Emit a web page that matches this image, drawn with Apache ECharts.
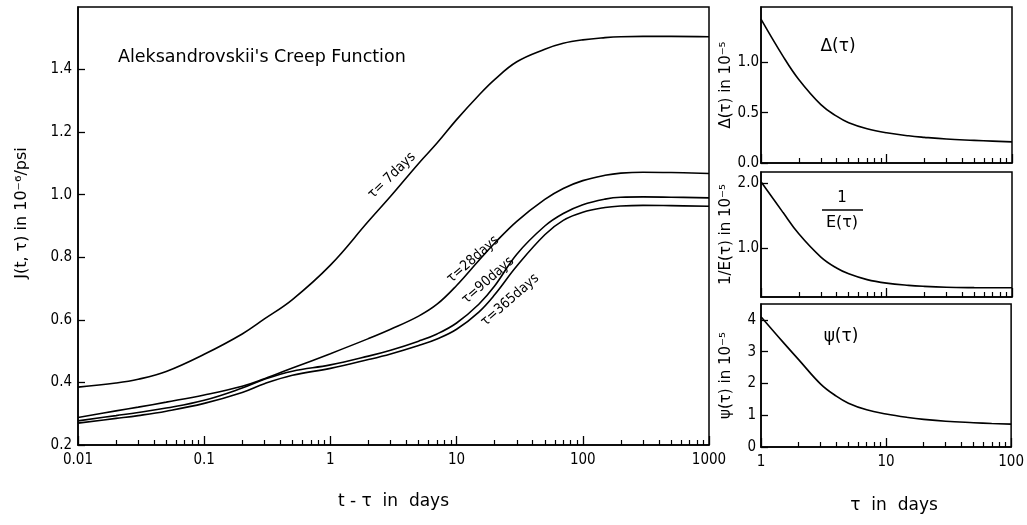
<!DOCTYPE html>
<html>
<head>
<meta charset="utf-8">
<script src="https://cdn.jsdelivr.net/npm/echarts@6/dist/echarts.min.js"></script>
<style>
html,body{margin:0;padding:0;background:#fff;}
#c{width:1027px;height:525px;}
</style>
</head>
<body>
<div id="c"></div>
<script>
// ---- main chart data: J(t,tau) vs t - tau (days) ----
const tValues = [0.01,0.02,0.03,0.05,0.1,0.2,0.3,0.5,1,2,3,5,7,10,15,20,30,50,70,100,150,200,300,500,1000];
const jTau7   = [0.385,0.398,0.410,0.435,0.490,0.555,0.603,0.665,0.775,0.915,0.995,1.100,1.165,1.240,1.318,1.368,1.425,1.465,1.484,1.495,1.502,1.505,1.506,1.506,1.505];
const jTau28  = [0.288,0.309,0.321,0.337,0.360,0.388,0.412,0.446,0.492,0.540,0.570,0.612,0.650,0.710,0.790,0.845,0.915,0.985,1.020,1.045,1.062,1.069,1.072,1.071,1.068];
const jTau90  = [0.277,0.294,0.304,0.318,0.343,0.382,0.410,0.436,0.456,0.484,0.503,0.532,0.555,0.590,0.650,0.708,0.810,0.900,0.940,0.968,0.986,0.992,0.993,0.992,0.990];
const jTau365 = [0.270,0.285,0.294,0.308,0.333,0.368,0.396,0.423,0.445,0.473,0.491,0.518,0.539,0.570,0.625,0.680,0.772,0.872,0.918,0.944,0.959,0.964,0.966,0.965,0.963];
const curveNames = ['τ= 7days','τ=28days','τ=90days','τ=365days'];
// label anchor points (t, J) for curve labels
const curveLabelT = [3.07, 13.5, 17.7, 26.5];
const curveLabelJ = [1.061, 0.793, 0.726, 0.663];

const mainYTicks = [0.2,0.4,0.6,0.8,1.0,1.2,1.4];
const mainXTicks = [0.01,0.1,1,10,100,1000];
const mainXMinor = [0.02,0.03,0.04,0.05,0.06,0.07,0.08,0.09,0.2,0.3,0.4,0.5,0.6,0.7,0.8,0.9,2,3,4,5,6,7,8,9,20,30,40,50,60,70,80,90,200,300,400,500,600,700,800,900];

// ---- right panels: functions of tau (days) ----
const tauValues = [1,1.5,2,3,4,5,7,10,15,20,30,50,70,100];
const deltaVals = [1.43,1.06,0.83,0.58,0.465,0.40,0.34,0.30,0.27,0.255,0.238,0.225,0.217,0.21];
const invEVals  = [2.03,1.55,1.22,0.86,0.69,0.60,0.51,0.455,0.42,0.405,0.392,0.385,0.383,0.383];
const psiVals   = [4.1,3.3,2.75,1.98,1.6,1.38,1.17,1.04,0.93,0.87,0.81,0.765,0.74,0.72];
const deltaTicks = [0,0.5,1.0];
const invETicks  = [1.0,2.0];
const psiTicks   = [0,1,2,3,4];
const tauXTicks = [1,10,100];
const tauXMinor = [2,3,4,5,6,7,8,9,20,30,40,50,60,70,80,90];

const FONT = "'Liberation Sans Narrow','DejaVu Sans Condensed','Liberation Sans',sans-serif";
const BLK = '#000';

function pairs(xs, ys){ return xs.map((x,i)=>[x,ys[i]]); }

const grids = [
  {left:78, top:7, width:631, height:438},
  {left:761, top:7, width:251, height:156},
  {left:761, top:172, width:251, height:125},
  {left:761, top:304, width:251, height:143}
].map(g=>Object.assign(g,{show:true,borderColor:BLK,borderWidth:1.5,containLabel:false}));

function xMajor(gi, min, max, ticks, showLabels, name){
  return {
    type:'log', logBase:10, gridIndex:gi, min:min, max:max,
    axisLine:{show:true,lineStyle:{color:BLK,width:1.5}},
    axisTick:{show:true,inside:true,length:9,lineStyle:{color:BLK,width:1.3},customValues:ticks},
    axisLabel:{show:showLabels,customValues:ticks,color:BLK,fontSize:15,fontFamily:FONT,margin:8,
      formatter:(v)=>String(+v.toPrecision(6))},
    splitLine:{show:false},
    name:name||'', nameLocation:'middle', nameGap:46, nameMoveOverlap:false,
    nameTextStyle:{color:BLK,fontSize:17,fontFamily:"'DejaVu Sans',sans-serif"}
  };
}
function xMinor(gi, min, max, ticks){
  return {
    type:'log', logBase:10, gridIndex:gi, min:min, max:max, position:'bottom',
    axisLine:{show:false},
    axisTick:{show:true,inside:true,length:5,lineStyle:{color:BLK,width:1.2},customValues:ticks},
    axisLabel:{show:false},
    splitLine:{show:false}
  };
}
function yAxis(gi, min, max, ticks, digits, name, gap, fs, margin){
  return {
    type:'value', gridIndex:gi, min:min, max:max,
    axisLine:{show:true,lineStyle:{color:BLK,width:1.5}},
    axisTick:{show:true,inside:true,length:7,lineStyle:{color:BLK,width:1.3},customValues:ticks},
    axisLabel:{show:true,customValues:ticks,color:BLK,fontSize:fs,fontFamily:FONT,margin:margin,
      formatter:(v)=>Number(v).toFixed(digits)},
    splitLine:{show:false},
    name:name, nameLocation:'middle', nameGap:gap, nameMoveOverlap:false,
    nameTextStyle:{color:BLK,fontSize:15,fontFamily:"'DejaVu Sans',sans-serif"}
  };
}

const xAxes = [
  xMajor(0, 0.01, 1000, mainXTicks, true, 't - τ  in  days'),
  xMinor(0, 0.01, 1000, mainXMinor),
  xMajor(1, 1, 100, tauXTicks, false),
  xMinor(1, 1, 100, tauXMinor),
  xMajor(2, 1, 100, tauXTicks, false),
  xMinor(2, 1, 100, tauXMinor),
  xMajor(3, 1, 100, tauXTicks, true, 'τ  in  days'),
  xMinor(3, 1, 100, tauXMinor)
];
xAxes[0].nameGap = 48;
xAxes[6].nameGap = 50;
xAxes[6].nameTextStyle.padding = [0,0,0,16];

const yAxes = [
  yAxis(0, 0.2, 1.6, mainYTicks, 1, 'J(t, τ) in 10⁻⁶/psi', 48, 15, 6),
  yAxis(1, 0, 1.55, deltaTicks, 1, 'Δ(τ) in 10⁻⁵', 27, 15, 2),
  yAxis(2, 0.24, 2.18, invETicks, 1, '1/E(τ) in 10⁻⁵', 27, 15, 2),
  yAxis(3, 0, 4.5, psiTicks, 0, 'ψ(τ) in 10⁻⁵', 27, 15, 5)
];
yAxes[0].nameTextStyle.fontSize = 16;
yAxes[0].nameTextStyle.padding = [0,0,0,26];

const mainSets = [jTau7, jTau28, jTau90, jTau365];
const series = mainSets.map((ys,i)=>({
  type:'line', xAxisIndex:0, yAxisIndex:0, data:pairs(tValues, ys),
  smooth:0.4, showSymbol:false, symbol:'none',
  lineStyle:{color:BLK,width:1.6}, z:3, silent:true,
  markPoint:{
    symbol:'circle', symbolSize:0, silent:true,
    label:{show:true,formatter:curveNames[i],color:BLK,fontSize:14,fontFamily:FONT,
      rotate:i===0?44:41,position:'inside'},
    data:[{coord:[curveLabelT[i], curveLabelJ[i]]}]
  }
}));
[[1,deltaVals],[2,invEVals],[3,psiVals]].forEach(([gi,ys])=>{
  series.push({
    type:'line', xAxisIndex:gi*2, yAxisIndex:gi, data:pairs(tauValues, ys),
    smooth:0.4, showSymbol:false, symbol:'none',
    lineStyle:{color:BLK,width:1.6}, silent:true
  });
});

const txt = (x,y,s,size)=>({type:'text',x:x,y:y,style:{text:s,fill:BLK,font:`${size}px 'DejaVu Sans',sans-serif`,textAlign:'center',textVerticalAlign:'middle'}});

const option = {
  backgroundColor:'#fff',
  animation:false,
  title:{text:"Aleksandrovskii's Creep Function",left:113,top:43,
    textStyle:{color:BLK,fontSize:17.5,fontWeight:'normal',fontFamily:"'DejaVu Sans',sans-serif"}},
  grid:grids,
  xAxis:xAxes,
  yAxis:yAxes,
  series:series,
  graphic:[
    txt(838,47,'Δ(τ)',17),
    txt(842,198,'1',15),
    {type:'line',shape:{x1:822,y1:210,x2:863,y2:210},style:{stroke:BLK,lineWidth:1.3}},
    txt(842,223,'E(τ)',16),
    txt(841,337,'ψ(τ)',17)
  ]
};

const chart = echarts.init(document.getElementById('c'),null,{renderer:'canvas'});
chart.setOption(option);
</script>
</body>
</html>
